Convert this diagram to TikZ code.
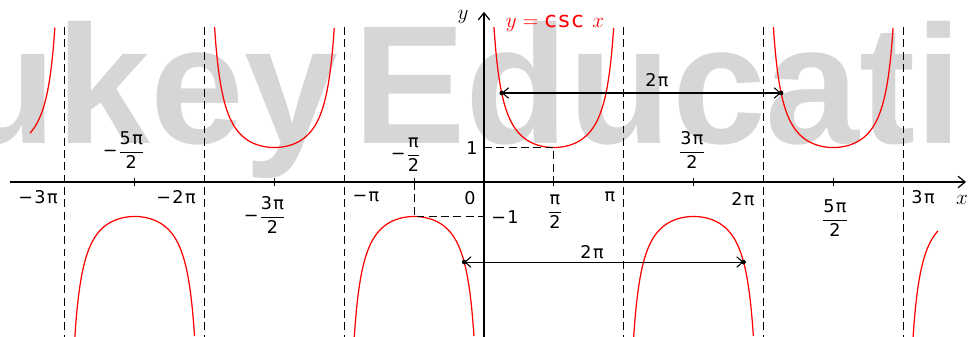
\documentclass[tikz,border=0pt]{standalone}
\usepackage{amsmath}
\usepackage{fontspec}
\setmainfont{DejaVu Sans}[LetterSpace=8]
\newfontfamily\markfont{Liberation Sans}
\usetikzlibrary{arrows.meta}

\begin{document}
\begin{tikzpicture}[x=0.8894cm, y=0.69cm,
  every node/.style={font=\fontsize{10}{12}\selectfont, inner sep=1pt},
  wmark/.style={font=\fontsize{96}{96}\selectfont\markfont\bfseries, text=black!16, anchor=base west, inner sep=0pt},
  axis/.style={-{Straight Barb[length=4pt,width=6.5pt]}, line width=0.7pt},
  asym/.style={dash pattern=on 4.5pt off 2.5pt, line width=0.6pt},
  graph/.style={red, line width=0.7pt},
  dot/.style={circle, fill, inner sep=0pt, minimum size=2.6pt},
  span/.style={{Straight Barb[length=3.5pt,width=6pt]}-{Straight Barb[length=3.5pt,width=6pt]}, line width=0.6pt},
  tick/.style={line width=0.6pt}]
  \useasboundingbox (-9.68cm,-3.08cm) rectangle (9.68cm,3.64cm);

  \node[wmark] (mark1) at (-11.93,1.13) {ukey};
  \node[wmark] (mark2) at (-2.945,1.13) {Educati};

  \coordinate (xs) at (-10.66,0); \coordinate (xe) at (10.84,0);
  \coordinate (ys) at (0,-4.7);   \coordinate (ye) at (0,4.93);
  \draw[axis] (xs) -- (xe);
  \draw[axis] (ys) -- (ye);

  \foreach \k in {-3,-2,-1,1,2,3}
    \draw[asym] (\k*pi,4.49) -- (\k*pi,-4.7);

  \foreach \k in {-3,...,2}{
    \pgfmathsetmacro{\lo}{\k*pi+0.2246}
    \pgfmathsetmacro{\hi}{(\k+1)*pi-0.2246}
    \draw[graph] plot[domain=\lo:\hi, samples=120, smooth] (\x,{1/sin(\x r)});
  }
  \pgfmathsetmacro{\lo}{-3.25*pi}
  \pgfmathsetmacro{\hi}{-3*pi-0.2246}
  \draw[graph] plot[domain=\lo:\hi, samples=60, smooth] (\x,{1/sin(\x r)});
  \pgfmathsetmacro{\lo}{3*pi+0.2246}
  \pgfmathsetmacro{\hi}{3.25*pi}
  \draw[graph] plot[domain=\lo:\hi, samples=60, smooth] (\x,{1/sin(\x r)});

  \coordinate (a1) at (0,1);     \coordinate (b1) at (pi/2,1);   \coordinate (c1) at (pi/2,0);
  \coordinate (a2) at (-pi/2,0); \coordinate (b2) at (-pi/2,-1); \coordinate (c2) at (0,-1);
  \draw[asym] (a1) -- (b1) -- (c1);
  \draw[asym] (a2) -- (b2) -- (c2);

  \foreach \t in {-5,-3,-1,1,3,5}
    \draw[tick] (\t*pi/2,0.12) -- (\t*pi/2,-0.13);

  \node[dot] (ta) at (0.398,2.58) {};
  \node[dot] (tb) at (6.681,2.58) {};
  \node[dot] (ba) at (-0.4456,-2.32) {};
  \node[dot] (bb) at (5.8376,-2.32) {};
  \draw[span] (ta.center) -- (tb.center);
  \draw[span] (ba.center) -- (bb.center);
  \node (tlab) at (3.890,2.957) {2π};
  \node (blab) at (2.429,-2.029) {2π};

  \node (m3pi) at (-10.03,-0.435) {−3π};
  \node (m2pi) at (-6.926,-0.435) {−2π};
  \node (mpi) at (-2.654,-0.435) {−π};
  \node (zero) at (-0.315,-0.464) {0};
  \node (pil) at (2.833,-0.435) {π};
  \node (twopil) at (5.824,-0.493) {2π};
  \node (threepil) at (9.872,-0.435) {3π};
  \node (onel) at (-0.270,0.986) {1};
  \node (monel) at (0.472,-1.014) {−1};

  \node (m5pi2) at (-8.096,0.928) {$\text{−}\dfrac{\text{5π}}{\text{2}}$};
  \node (m3pi2) at (-4.925,-0.957) {$\text{−}\dfrac{\text{3π}}{\text{2}}$};
  \node (mpi2) at (-1.754,0.783) {$\text{−}\dfrac{\text{π}}{\text{2}}$};
  \node (pi2) at (1.597,-0.870) {$\dfrac{\text{π}}{\text{2}}$};
  \node (threepi2) at (4.677,0.928) {$\dfrac{\text{3π}}{\text{2}}$};
  \node (fivepi2) at (7.893,-1.043) {$\dfrac{\text{5π}}{\text{2}}$};

  \node[font=\fontsize{13}{15}\selectfont] (xlab) at (10.749,-0.522) {$x$};
  \node[font=\fontsize{13}{15}\selectfont] (ylab) at (-0.472,4.783) {$y$};
  \node[font=\fontsize{12.5}{15}\selectfont, text=red] (cscl) at (1.597,4.609) {$y = \text{csc}\ x$};
\end{tikzpicture}
\end{document}
